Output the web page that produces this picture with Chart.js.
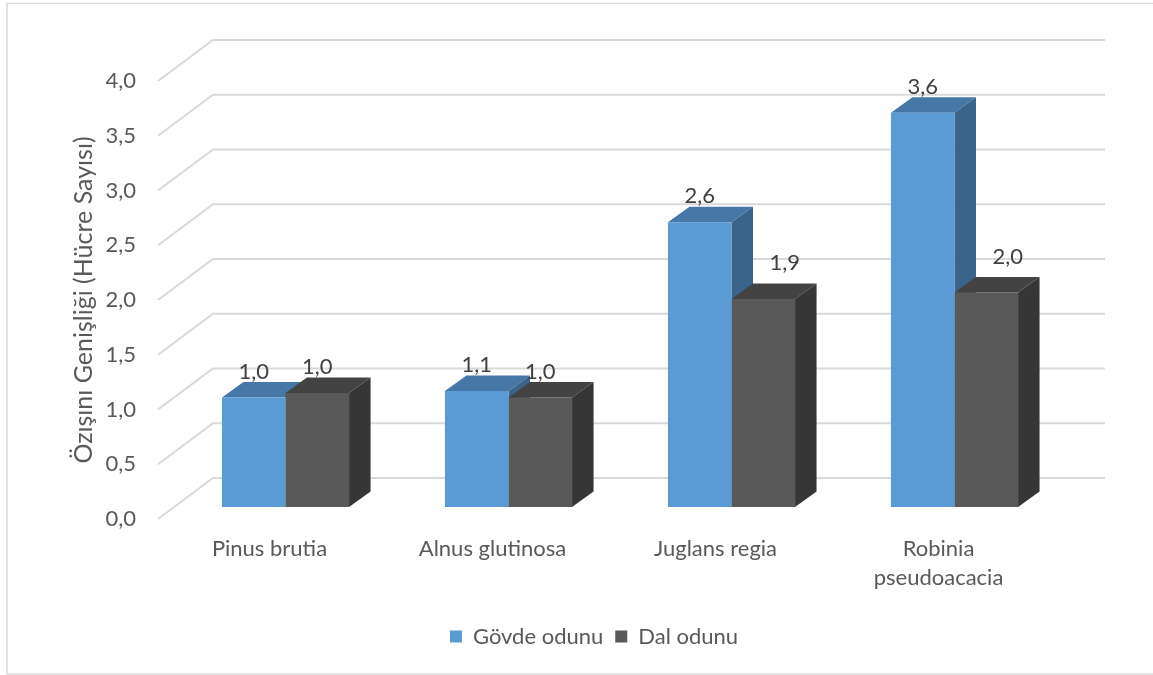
<!DOCTYPE html>
<html>
<head>
<meta charset="utf-8">
<script src="https://cdn.jsdelivr.net/npm/chart.js@4.4.1/dist/chart.umd.min.js"></script>
<style>
  html, body { margin: 0; padding: 0; background: #fff; }
  #wrap { width: 1153px; height: 675px; }
</style>
</head>
<body>
<div id="wrap"><canvas id="chart" width="1153" height="675"></canvas></div>
<script>
// ---------------- Data ----------------
const species = ["Pinus brutia", "Alnus glutinosa", "Juglans regia", ["Robinia", "pseudoacacia"]];
const seriesNames = ["Gövde odunu", "Dal odunu"];
const govdeOdunu = [1.0, 1.06, 2.6, 3.6];
const dalOdunu = [1.04, 1.0, 1.9, 1.96];
const yMin = 0;
const yMax = 4;
const yStep = 0.5;
const yTitle = "Özışını Genişliği (Hücre Sayısı)";

// ---------------- Look ----------------
const FONT = "Lato";
const TEXT = "#595959";
const GRID = "#d9d9d9";
const SIZE = 22;
const shades = [
  { front: "#5b9bd5", top: "#4677a7", side: "#3a6489" },
  { front: "#595959", top: "#434343", side: "#363636" },
];

// pseudo 3D offsets (px): bar front plane, bar depth, back wall
const FRONT = { x: 16, y: -12 };
const DEPTH = { x: 21.5, y: -15.5 };
const WALL = { x: 55, y: -41 };

const fmt = v => Number(v).toFixed(1).replace(".", ",");

Chart.defaults.font.family = FONT;
Chart.defaults.color = TEXT;

// ---------------- 3D plugin ----------------
function drawFaces(ctx, chart, dsIndex) {
  const shade = shades[dsIndex];
  chart.getDatasetMeta(dsIndex).data.forEach(bar => {
    const left = bar.x - bar.width / 2 + FRONT.x;
    const right = bar.x + bar.width / 2 + FRONT.x;
    const top = bar.y + FRONT.y;
    const bottom = bar.base + FRONT.y;

    ctx.fillStyle = shade.top;
    ctx.beginPath();
    ctx.moveTo(left, top);
    ctx.lineTo(right, top);
    ctx.lineTo(right + DEPTH.x, top + DEPTH.y);
    ctx.lineTo(left + DEPTH.x, top + DEPTH.y);
    ctx.closePath();
    ctx.fill();

    ctx.fillStyle = shade.side;
    ctx.beginPath();
    ctx.moveTo(right, top);
    ctx.lineTo(right + DEPTH.x, top + DEPTH.y);
    ctx.lineTo(right + DEPTH.x, bottom + DEPTH.y);
    ctx.lineTo(right, bottom);
    ctx.closePath();
    ctx.fill();
  });
}

const box3d = {
  id: "box3d",
  beforeDraw(chart) {
    const ctx = chart.ctx;
    ctx.save();
    ctx.strokeStyle = GRID;
    ctx.lineWidth = 1.5;
    ctx.strokeRect(7, 3.5, 1200, 670.5);
    ctx.restore();
  },
  beforeDatasetsDraw(chart) {
    const { ctx, chartArea: a, scales: { y } } = chart;
    ctx.save();
    // floor edge + back wall gridlines
    ctx.strokeStyle = GRID;
    ctx.lineWidth = 2;
    ctx.beginPath();
    y.ticks.forEach(t => {
      const py = y.getPixelForValue(t.value);
      ctx.moveTo(a.left, py);
      ctx.lineTo(a.left + WALL.x, py + WALL.y);
      ctx.lineTo(a.right + WALL.x, py + WALL.y);
    });
    ctx.stroke();
    // faces of the first series sit behind the second series' fronts
    drawFaces(ctx, chart, 0);
    ctx.translate(FRONT.x, FRONT.y);
  },
  afterDatasetsDraw(chart) {
    const ctx = chart.ctx;
    ctx.restore();
    ctx.save();
    drawFaces(ctx, chart, 1);

    // value labels
    ctx.font = `${SIZE}px ${FONT}`;
    ctx.fillStyle = "#404040";
    ctx.textAlign = "center";
    ctx.textBaseline = "alphabetic";
    chart.data.datasets.forEach((ds, di) => {
      chart.getDatasetMeta(di).data.forEach((bar, i) => {
        let lx = bar.x + FRONT.x;
        let ly = bar.y + FRONT.y - 19;
        // a short bar next to a much taller one gets its label nudged back
        if (di === 1 && govdeOdunu[i] - ds.data[i] > 0.5) {
          lx += DEPTH.x;
          ly = bar.y + FRONT.y + DEPTH.y - 13;
        }
        ctx.fillText(fmt(ds.data[i]), lx, ly);
      });
    });
    ctx.restore();
  },
};

// ---------------- Chart ----------------
new Chart(document.getElementById("chart"), {
  type: "bar",
  data: {
    labels: species,
    datasets: [
      { label: seriesNames[0], data: govdeOdunu, backgroundColor: shades[0].front },
      { label: seriesNames[1], data: dalOdunu, backgroundColor: shades[1].front },
    ],
  },
  options: {
    responsive: false,
    animation: false,
    devicePixelRatio: 1,
    layout: { padding: { left: 35, top: 81, right: 0, bottom: 17.5 } },
    datasets: {
      bar: { barPercentage: 1, categoryPercentage: 0.57, borderWidth: 0, clip: false },
    },
    plugins: {
      tooltip: { enabled: false },
      legend: {
        position: "bottom",
        labels: {
          font: { size: SIZE },
          color: TEXT,
          boxWidth: 12,
          boxHeight: 12,
          padding: 12,
        },
      },
    },
    scales: {
      x: {
        grid: { display: false, drawTicks: false },
        border: { display: false },
        ticks: { font: { size: SIZE, lineHeight: 29 / SIZE }, color: TEXT, padding: 15.5, maxRotation: 0 },
        afterFit(scale) { scale.height = 94.5; },
      },
      y: {
        min: yMin,
        max: yMax,
        grid: { display: false, drawTicks: false },
        border: { display: false },
        ticks: { stepSize: yStep, font: { size: SIZE }, color: TEXT, padding: 22, callback: v => fmt(v) },
        title: { display: true, text: yTitle, font: { size: 25 }, color: TEXT, padding: { top: 34, bottom: 0 } },
        afterFit(scale) { scale.width = 123; },
      },
      // empty right-hand axis keeps room for the back wall
      side: {
        position: "right",
        display: true,
        grid: { display: false, drawTicks: false },
        border: { display: false },
        ticks: { display: false },
        afterFit(scale) { scale.width = 103; },
      },
    },
  },
  plugins: [box3d],
});
</script>
</body>
</html>
